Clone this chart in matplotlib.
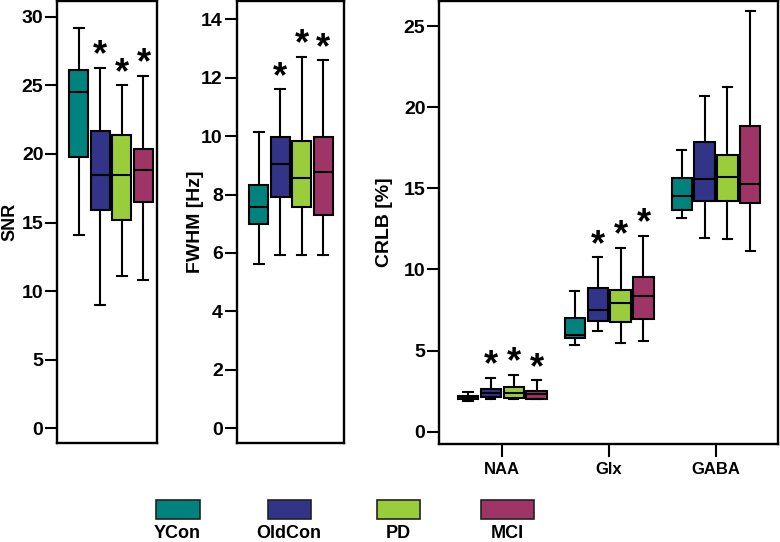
import matplotlib
matplotlib.use('Agg')
import matplotlib.pyplot as plt
from matplotlib.patches import Rectangle

plt.rcParams['font.family'] = ['Liberation Sans', 'DejaVu Sans']
plt.rcParams['font.weight'] = 'bold'

# ---------------- data ----------------
groups = ['YCon', 'OldCon', 'PD', 'MCI']
colors = ['#00827F', '#323488', '#9ACD3C', '#9E3566']

# SNR
snr_whislo = [14.1, 9.0, 11.1, 10.8]
snr_q1 = [19.75, 15.9, 15.2, 16.5]
snr_med = [24.5, 18.5, 18.45, 18.8]
snr_q3 = [26.1, 21.7, 21.4, 20.35]
snr_whishi = [29.2, 26.3, 25.0, 25.7]
snr_sig = [False, True, True, True]

# FWHM [Hz]
fwhm_whislo = [5.63, 5.92, 5.92, 5.92]
fwhm_q1 = [7.0, 7.9, 7.56, 7.3]
fwhm_med = [7.59, 9.05, 8.55, 8.78]
fwhm_q3 = [8.31, 9.96, 9.83, 9.96]
fwhm_whishi = [10.15, 11.6, 12.72, 12.6]
fwhm_sig = [False, True, True, True]

# CRLB [%]
metabolites = ['NAA', 'Glx', 'GABA']
naa_whislo = [1.9, 2.01, 2.0, 2.0]
naa_q1 = [2.0, 2.12, 2.08, 2.01]
naa_med = [2.1, 2.37, 2.37, 2.3]
naa_q3 = [2.2, 2.61, 2.77, 2.53]
naa_whishi = [2.43, 3.33, 3.51, 3.19]
naa_sig = [False, True, True, True]

glx_whislo = [5.34, 6.18, 5.45, 5.61]
glx_q1 = [5.75, 6.84, 6.76, 6.93]
glx_med = [5.96, 7.52, 7.93, 8.36]
glx_q3 = [6.99, 8.87, 8.73, 9.51]
glx_whishi = [8.67, 10.76, 11.34, 12.08]
glx_sig = [False, True, True, True]

gaba_whislo = [13.17, 11.93, 11.85, 11.11]
gaba_q1 = [13.66, 14.2, 14.2, 14.11]
gaba_med = [14.52, 15.59, 15.69, 15.24]
gaba_q3 = [15.67, 17.83, 17.03, 18.84]
gaba_whishi = [17.34, 20.68, 21.26, 25.92]
gaba_sig = [False, False, False, False]


def make_stats(lo, q1, med, q3, hi):
    return [dict(whislo=a, q1=b, med=c, q3=d, whishi=e, fliers=[])
            for a, b, c, d, e in zip(lo, q1, med, q3, hi)]


LW = 1.5
STAR_SIZE = 26
STAR_OFF = 1.5


def draw_boxes(ax, stats, positions, width, capw, sig):
    bp = ax.bxp(stats, positions=positions, widths=width, capwidths=capw,
                patch_artist=True, showfliers=False,
                boxprops=dict(linewidth=LW, edgecolor='black'),
                medianprops=dict(color='black', linewidth=LW),
                whiskerprops=dict(color='black', linewidth=LW),
                capprops=dict(color='black', linewidth=LW),
                manage_ticks=False)
    for patch, c in zip(bp['boxes'], colors):
        patch.set_facecolor(c)
    for p, s, st in zip(positions, sig, stats):
        if s:
            ax.annotate('*', xy=(p, st['whishi']), xytext=(0, STAR_OFF),
                        textcoords='offset points', ha='center', va='baseline',
                        fontsize=STAR_SIZE, fontweight='bold')


def style_axis(ax):
    for sp in ax.spines.values():
        sp.set_linewidth(1.7)
    ax.tick_params(axis='y', length=8.5, width=1.5, pad=1.5, labelsize=14)
    ax.tick_params(axis='x', length=9, width=1.5, pad=4, labelsize=12)
    for lab in ax.get_yticklabels() + ax.get_xticklabels():
        lab.set_fontweight('bold')


fig = plt.figure(figsize=(7.8, 5.42), dpi=100)

# Panel 1: SNR
ax1 = fig.add_axes([0.0735, 0.1827, 0.1282, 0.8155])
pos = list(range(len(groups)))
draw_boxes(ax1, make_stats(snr_whislo, snr_q1, snr_med, snr_q3, snr_whishi),
           pos, 0.88, 0.46, snr_sig)
ax1.set_xlim(-0.98, 3.64)
ax1.set_ylim(-1.07, 31.15)
ax1.set_yticks([0, 5, 10, 15, 20, 25, 30])
ax1.set_xticks([])
ax1.set_ylabel('SNR', fontsize=13, fontweight='bold')
ax1.yaxis.set_label_coords(-0.39, 0.5)
style_axis(ax1)

# Panel 2: FWHM
ax2 = fig.add_axes([0.3035, 0.1827, 0.1376, 0.8155])
draw_boxes(ax2, make_stats(fwhm_whislo, fwhm_q1, fwhm_med, fwhm_q3, fwhm_whishi),
           pos, 0.89, 0.45, fwhm_sig)
ax2.set_xlim(-1.03, 3.98)
ax2.set_ylim(-0.51, 14.63)
ax2.set_yticks([0, 2, 4, 6, 8, 10, 12, 14])
ax2.set_xticks([])
ax2.set_ylabel('FWHM [Hz]', fontsize=14, fontweight='bold')
ax2.yaxis.set_label_coords(-0.305, 0.5)
style_axis(ax2)

# Panel 3: CRLB
ax3 = fig.add_axes([0.5632, 0.1808, 0.4342, 0.8173])
met_data = [
    (naa_whislo, naa_q1, naa_med, naa_q3, naa_whishi, naa_sig),
    (glx_whislo, glx_q1, glx_med, glx_q3, glx_whishi, glx_sig),
    (gaba_whislo, gaba_q1, gaba_med, gaba_q3, gaba_whishi, gaba_sig),
]
spacing = 0.214
for g, (lo, q1, med, q3, hi, sig) in enumerate(met_data):
    p = [g + (i - 1.5) * spacing for i in range(len(groups))]
    draw_boxes(ax3, make_stats(lo, q1, med, q3, hi), p, 0.19, 0.085, sig)
ax3.set_xlim(-0.59, 2.58)
ax3.set_ylim(-0.76, 26.55)
ax3.set_yticks([0, 5, 10, 15, 20, 25])
ax3.set_xticks(range(len(metabolites)))
ax3.set_xticklabels(metabolites)
ax3.set_ylabel('CRLB [%]', fontsize=14, fontweight='bold')
ax3.yaxis.set_label_coords(-0.136, 0.5)
style_axis(ax3)

# Legend (patches with labels below)
lax = fig.add_axes([0, 0, 1, 1], zorder=-1)
lax.set_xlim(0, 780)
lax.set_ylim(542, 0)
lax.axis('off')
leg_centers = [177.5, 289, 398, 507]
leg_widths = [44, 43, 43, 53]
for c, w, col, name in zip(leg_centers, leg_widths, colors, groups):
    lax.add_patch(Rectangle((c - w / 2, 499.5), w, 19, facecolor=col,
                            edgecolor='#222222', linewidth=1.2))
    lax.text(c, 533, name, ha='center', va='center', fontsize=13,
             fontweight='bold')

fig.savefig('out.png', dpi=100)
